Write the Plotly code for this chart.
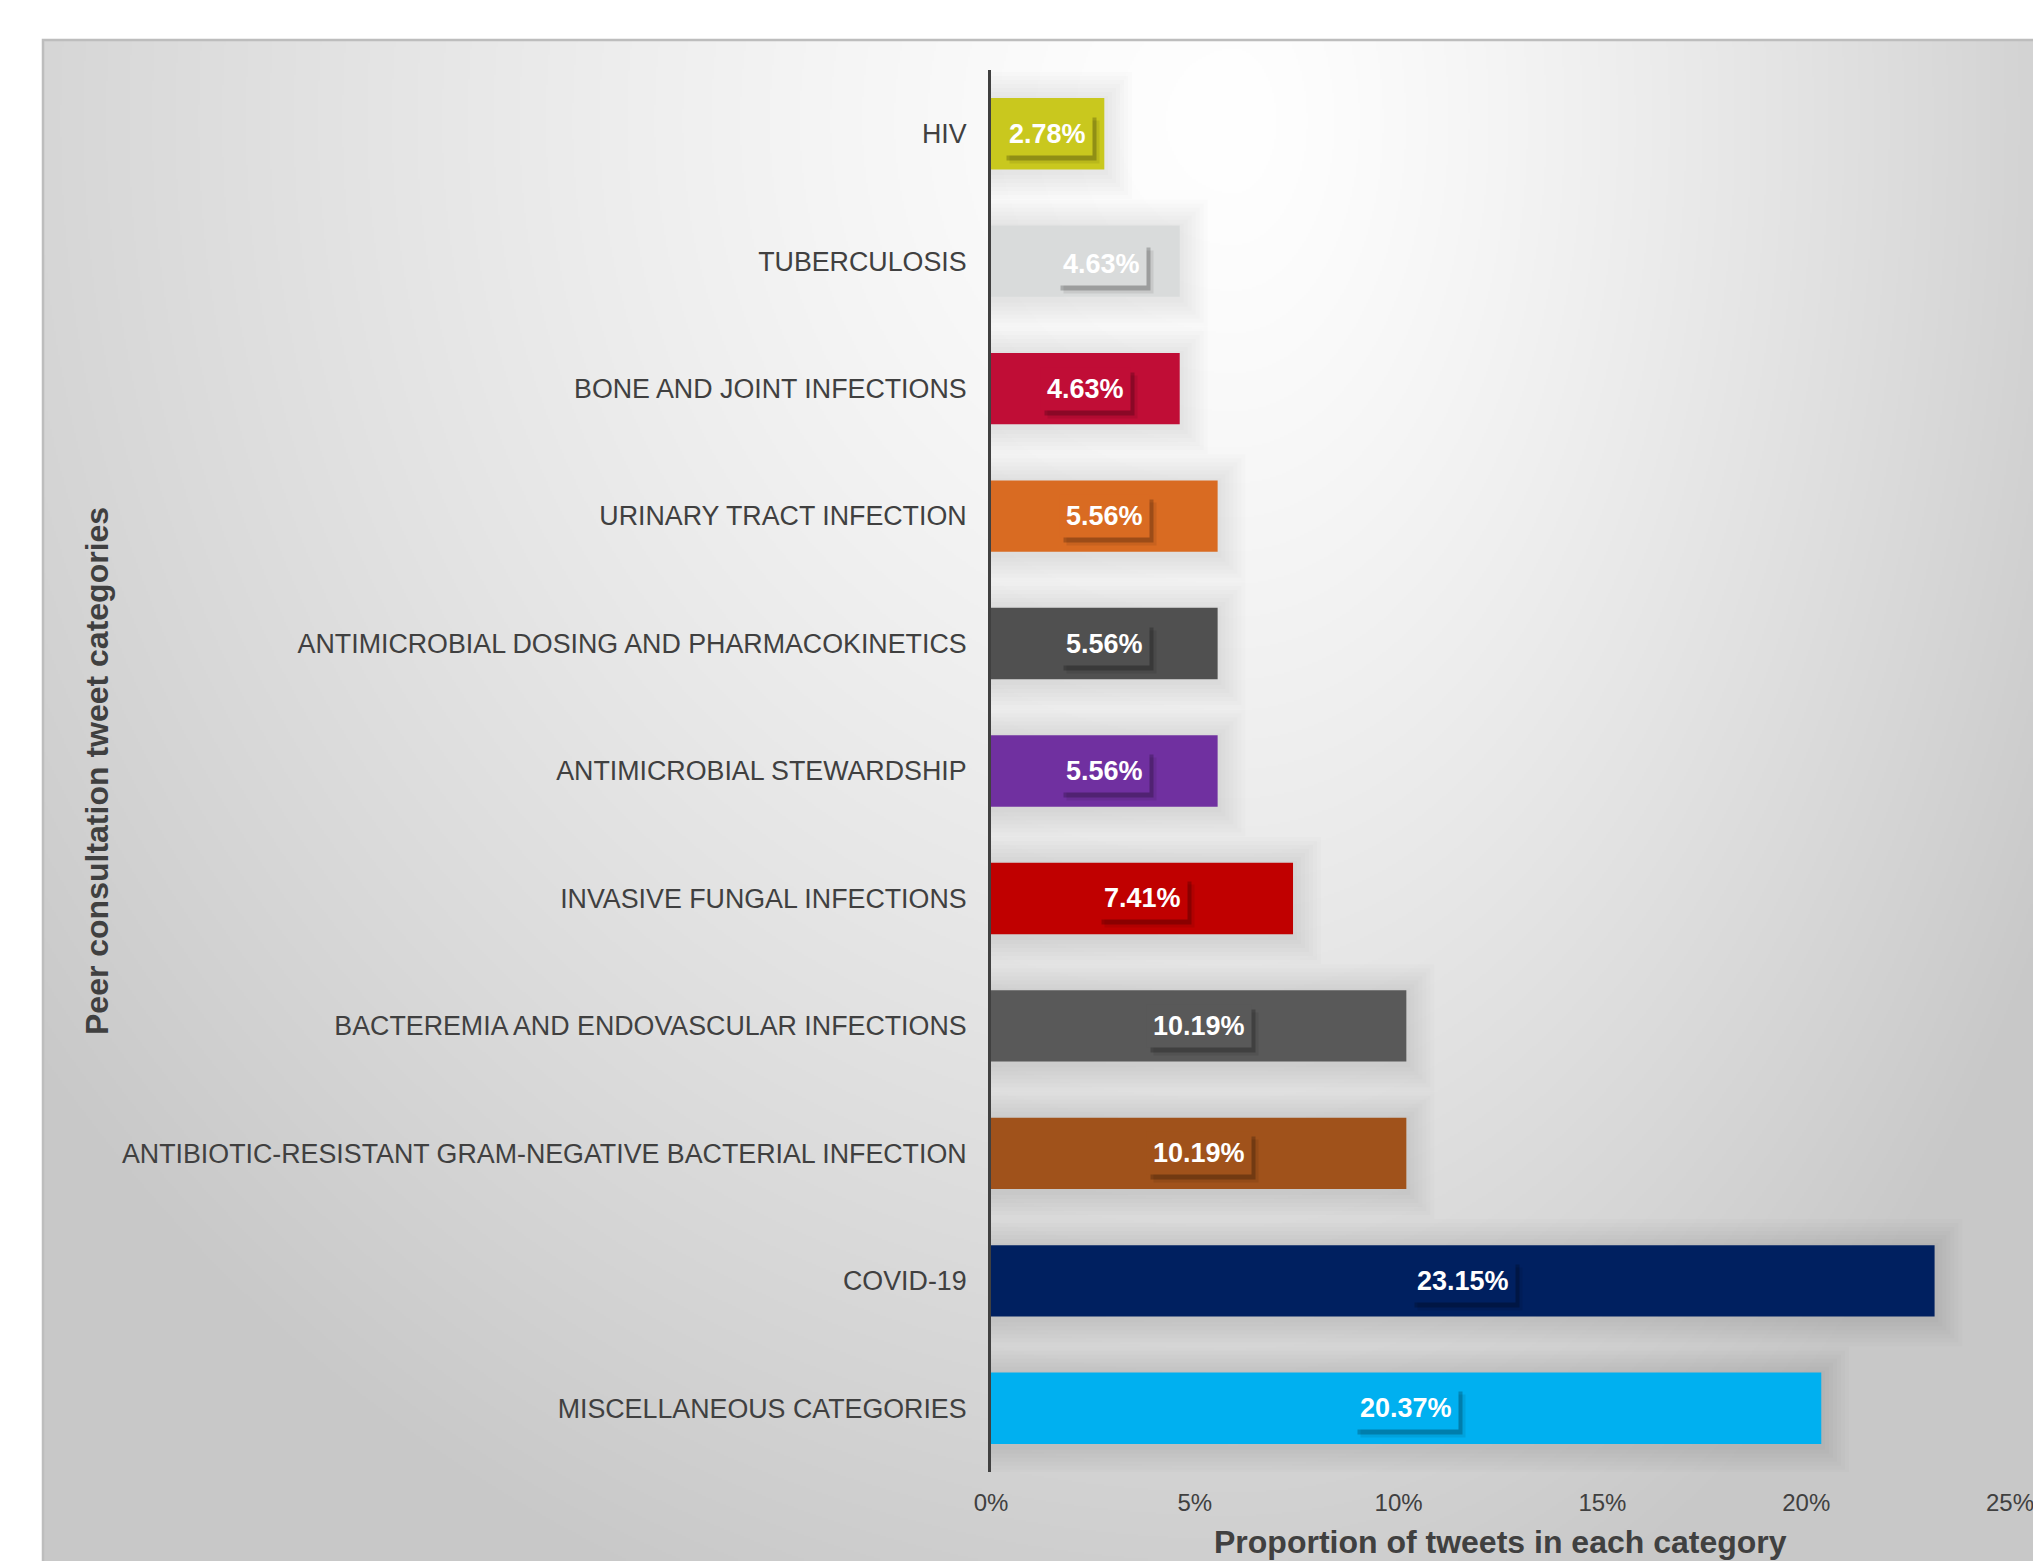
import base64
import struct
import zlib

import numpy as np
import plotly.graph_objects as go

# ---------------- data ----------------
categories = [
    "HIV",
    "TUBERCULOSIS",
    "BONE AND JOINT INFECTIONS",
    "URINARY TRACT INFECTION",
    "ANTIMICROBIAL DOSING AND PHARMACOKINETICS",
    "ANTIMICROBIAL STEWARDSHIP",
    "INVASIVE FUNGAL INFECTIONS",
    "BACTEREMIA AND ENDOVASCULAR INFECTIONS",
    "ANTIBIOTIC-RESISTANT GRAM-NEGATIVE BACTERIAL INFECTION",
    "COVID-19",
    "MISCELLANEOUS CATEGORIES",
]
values = [2.78, 4.63, 4.63, 5.56, 5.56, 5.56, 7.41, 10.19, 10.19, 23.15, 20.37]
value_labels = ["2.78%", "4.63%", "4.63%", "5.56%", "5.56%", "5.56%", "7.41%",
                "10.19%", "10.19%", "23.15%", "20.37%"]
bar_colors = ["#C9C81E", "#D9DBDB", "#C00D36", "#D96B22", "#505050", "#7030A0",
              "#C00000", "#595959", "#A0521B", "#002060", "#00B0F0"]
x_tickvals = [0, 5, 10, 15, 20, 25]
x_ticktext = ["0%", "5%", "10%", "15%", "20%", "25%"]
x_title = "Proportion of tweets in each category"
y_title = "Peer consultation tweet categories"

# ---------------- geometry ----------------
W, H = 2033, 1561
ML, MR, MT, MB = 991, 23, 70, 89
PW, PH = W - ML - MR, H - MT - MB
X_MAX = 25.0
PX_PER_X = PW / X_MAX
PX_PER_CAT = PH / len(categories)
BAR_W = 0.56

FONT = "Liberation Sans, Arial, sans-serif"
TXT = "#404040"


def px_to_paper_x(px):
    return (px - ML) / PW


def px_to_paper_y(py):
    return (H - MB - py) / PH


# panel (gradient background) in pixels
PANEL_L, PANEL_T = 43, 40
PANEL_W, PANEL_H = W - PANEL_L, H - PANEL_T


# ---------------- gradient background as PNG ----------------
def png_gray(arr):
    h, w = arr.shape
    raw = b"".join(b"\x00" + arr[i].tobytes() for i in range(h))

    def chunk(t, d):
        c = struct.pack(">I", len(d)) + t + d
        return c + struct.pack(">I", zlib.crc32(t + d) & 0xFFFFFFFF)

    ihdr = struct.pack(">IIBBBBB", w, h, 8, 0, 0, 0, 0)
    return (b"\x89PNG\r\n\x1a\n" + chunk(b"IHDR", ihdr)
            + chunk(b"IDAT", zlib.compress(raw, 9)) + chunk(b"IEND", b""))


ds = 2
gw, gh = PANEL_W // ds, PANEL_H // ds
xx, yy = np.meshgrid(np.arange(gw) * ds, np.arange(gh) * ds)
cx, cy = 1190.0, 80.0
dx = xx - cx
dy = yy - cy
sx = np.where(dx < 0, 1500.0, 950.0)
d = np.sqrt((dx / sx) ** 2 + (dy / 1600.0) ** 2)
lum = 255.0 - 55.0 * np.clip(d, 0, 1) ** 1.3
grad = np.clip(lum, 0, 255).astype(np.uint8)
grad_src = "data:image/png;base64," + base64.b64encode(png_gray(grad)).decode()

fig = go.Figure()

# soft bar shadows (many faint layers behind bars)
for ext_px in [28, 24, 20, 16, 12, 8, 4]:
    ex = ext_px / PX_PER_X
    ey = ext_px / PX_PER_CAT
    fig.add_trace(go.Bar(
        y=categories,
        x=[v + 2 * ex for v in values],
        base=[-ex] * len(values),
        orientation="h",
        width=BAR_W + 2 * ey,
        offset=-(BAR_W + 2 * ey) / 2 + 0.015,
        marker=dict(color="rgba(0,0,0,0.013)", line=dict(width=0)),
        hoverinfo="skip",
        showlegend=False,
    ))

fig.add_trace(go.Bar(
    y=categories,
    x=values,
    orientation="h",
    width=BAR_W,
    marker=dict(color=bar_colors, line=dict(width=0)),
    showlegend=False,
    hovertemplate="%{y}: %{x:.2f}%<extra></extra>",
))

# data labels with box + drop shadow
label_nudge = {"TUBERCULOSIS": (16, -3)}
annotations = []
for cat, v, lab, col in zip(categories, values, value_labels, bar_colors):
    nx, ny = label_nudge.get(cat, (0, 0))
    common = dict(x=v / 2, y=cat, xref="x", yref="y", showarrow=False,
                  text=lab, borderpad=6,
                  font=dict(family=FONT, size=27, color="rgba(0,0,0,0)",
                            weight="bold"))
    annotations.append(dict(common, bgcolor="rgba(0,0,0,0.08)",
                            xshift=nx + 7, yshift=ny - 8))
    annotations.append(dict(common, bgcolor="rgba(0,0,0,0.22)",
                            xshift=nx + 4, yshift=ny - 5))
    main = dict(common, bgcolor=col, xshift=nx, yshift=ny)
    main["font"] = dict(family=FONT, size=27, color="white", weight="bold")
    annotations.append(main)

# axis titles
annotations.append(dict(
    text=x_title, xref="paper", yref="paper",
    x=px_to_paper_x(ML + PW / 2), y=px_to_paper_y(1542),
    xanchor="center", yanchor="middle", showarrow=False,
    font=dict(family=FONT, size=32, color=TXT, weight="bold"),
))
annotations.append(dict(
    text=y_title, xref="paper", yref="paper",
    x=px_to_paper_x(97), y=0.5, textangle=-90,
    xanchor="center", yanchor="middle", showarrow=False,
    font=dict(family=FONT, size=32, color=TXT, weight="bold"),
))

px0, py0 = px_to_paper_x(PANEL_L), px_to_paper_y(PANEL_T)
px1, py1 = px_to_paper_x(W), px_to_paper_y(H)

fig.update_layout(
    width=W, height=H,
    margin=dict(l=ML, r=MR, t=MT, b=MB, autoexpand=False),
    paper_bgcolor="white",
    plot_bgcolor="rgba(0,0,0,0)",
    barmode="overlay",
    font=dict(family=FONT, color=TXT),
    annotations=annotations,
    images=[dict(
        source=grad_src, xref="paper", yref="paper",
        x=px0, y=py0, sizex=px1 - px0, sizey=py0 - py1,
        xanchor="left", yanchor="top", sizing="stretch", layer="below",
    )],
    shapes=[dict(
        type="rect", xref="paper", yref="paper",
        x0=px0, y0=py1 - 0.2, x1=px1 + 0.2, y1=py0,
        line=dict(color="#BDBDBD", width=2.5), fillcolor="rgba(0,0,0,0)",
        layer="below",
    )],
    xaxis=dict(
        range=[0, X_MAX], tickvals=x_tickvals, ticktext=x_ticktext,
        showgrid=False, zeroline=False, showline=False, ticks="",
        ticklabelstandoff=14, ticklabeloverflow="allow",
        tickfont=dict(family=FONT, size=24, color=TXT),
        fixedrange=True,
    ),
    yaxis=dict(
        type="category", categoryorder="array", categoryarray=categories,
        range=[len(categories) - 0.5, -0.5],
        showgrid=False, zeroline=False, showline=True,
        linecolor="#404040", linewidth=3, ticks="",
        ticklabelstandoff=16,
        tickfont=dict(family=FONT, size=26.8, color=TXT),
        fixedrange=True,
    ),
)

fig.write_html("out.html")
